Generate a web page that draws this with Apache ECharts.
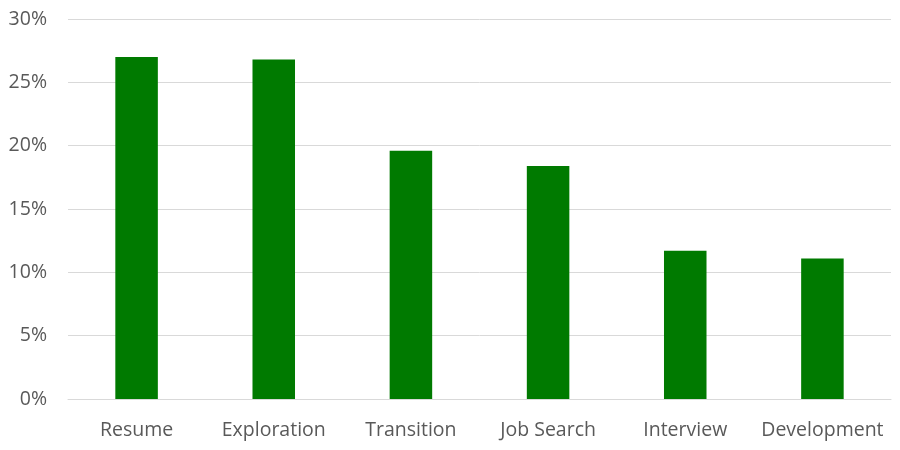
<!DOCTYPE html>
<html>
<head>
<meta charset="utf-8">
<script src="https://cdn.jsdelivr.net/npm/echarts@6/dist/echarts.min.js"></script>
<style>
  html,body{margin:0;padding:0;background:#fff}
  #chart{width:900px;height:450px}
</style>
</head>
<body>
<div id="chart"></div>
<script>
// 数据:类别 + 占比(%)
const categories = ['Resume','Exploration','Transition','Job Search','Interview','Development']
const shares = [27.0, 26.8, 19.6, 18.4, 11.7, 11.1]
const yTicks = { min:0, max:30, step:5 }

const c = echarts.init(document.getElementById('chart'))
c.setOption({
  backgroundColor:'#fff',
  animation:false,
  textStyle:{ fontFamily:'"Open Sans", sans-serif' },
  grid:{ left:68, right:9, top:19, bottom:51, containLabel:false },
  xAxis:{
    type:'category', data:categories,
    axisLine:{ lineStyle:{ color:'#d9d9d9' } },
    axisTick:{ show:false },
    axisLabel:{ color:'#595959', fontSize:19.5, margin:21, interval:0 }
  },
  yAxis:{
    type:'value', min:yTicks.min, max:yTicks.max, interval:yTicks.step,
    axisLine:{ show:false }, axisTick:{ show:false },
    axisLabel:{ color:'#595959', fontSize:19.5, margin:21, formatter:v=>v+'%' },
    splitLine:{ lineStyle:{ color:'#d9d9d9' } }
  },
  series:[{
    type:'bar', data:shares, barWidth:'31%',
    itemStyle:{ color:'#007a00' }
  }]
})
</script>
</body>
</html>
